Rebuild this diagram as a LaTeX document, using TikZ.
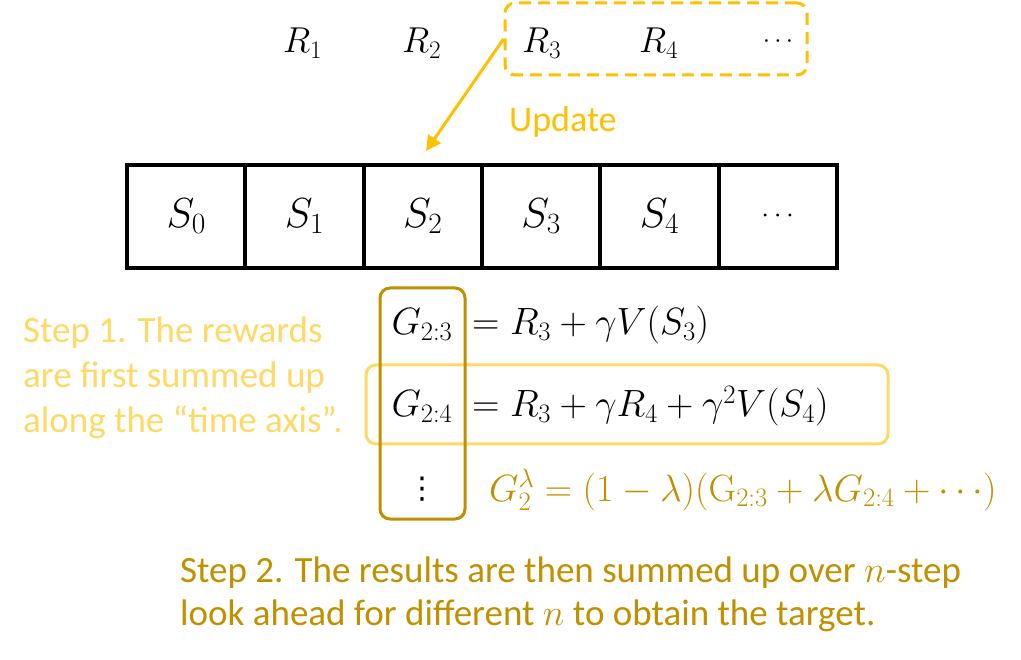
\RequirePackage{fix-cm}
\documentclass[tikz,border=0pt]{standalone}
\usepackage[no-math]{fontspec}
\setmainfont{Carlito}
\newfontfamily\dejavu{DejaVu Sans}
\usetikzlibrary{arrows.meta}
\definecolor{orng}{HTML}{FFC000}
\definecolor{lyel}{HTML}{FFD966}
\definecolor{gold}{HTML}{BF9000}
\begin{document}
\begin{tikzpicture}[x=1pt,y=-1pt,
  cell/.style={draw, line width=4pt, minimum width=118.3pt, minimum height=103pt, inner sep=0pt, font=\fontsize{42}{50}\selectfont},
  rlab/.style={anchor=base west, inner sep=0pt, font=\fontsize{36}{43}\selectfont},
  eqn/.style={inner sep=0pt, font=\fontsize{38}{46}\selectfont},
  stepone/.style={anchor=north west, inner sep=0pt, align=left, text=lyel, font=\fontsize{37}{45}\selectfont},
  steptwo/.style={anchor=north west, inner sep=0pt, align=left, text=gold, font=\fontsize{37}{43}\selectfont},
  roundbox/.style={line width=3pt, rounded corners=10pt, inner sep=0pt}
]
\useasboundingbox (0,0) rectangle (1021,660);

% rewards
\node[rlab] (r1) at (283,53) {$R_1$};
\node[rlab] (r2) at (402,53) {$R_2$};
\node[rlab] (r3) at (522,53) {$R_3$};
\node[rlab] (r4) at (639,53) {$R_4$};
\node[rlab, anchor=base, font=\fontsize{26}{30}\selectfont] (rd) at (778,48) {$\cdots$};
\node[draw=orng, dash pattern=on 12pt off 7pt, roundbox, minimum width=302pt, minimum height=72pt] (dbox) at (656,39) {};

% update arrow
\coordinate (updtip) at (426,151);
\draw[orng, line width=3pt, -{Triangle[length=15pt,width=15pt]}] (dbox.west) -- (updtip);
\node[anchor=base west, inner sep=0pt, text=orng, font=\fontsize{36}{43}\selectfont] (upd) at (509,132) {Update};

% states
\foreach \i/\t in {0/$S_0$,1/$S_1$,2/$S_2$,3/$S_3$,4/$S_4$}{
  \node[cell] (s\i) at ({186.2+118.3*\i},216.5) {\t};
}
\node[cell, font=\fontsize{28}{34}\selectfont] (s5) at ({186.2+118.3*5},216.5) {$\cdots$};

% boxes
\node[draw=lyel, roundbox, minimum width=522pt, minimum height=79pt] (ybox) at (627,404.5) {};
\node[draw=gold, roundbox, minimum width=85pt, minimum height=231pt] (gbox) at (422.5,403.5) {};

% equations
\node[eqn, anchor=base] (g23) at (422,335) {$G_{2:3}$};
\node[eqn, anchor=base west] (e1) at (472,335) {$= R_3 + \gamma V(S_3)$};
\node[eqn, anchor=base] (g24) at (422,417) {$G_{2:4}$};
\node[eqn, anchor=base west] (e2) at (472,417) {$= R_3 + \gamma R_4 + \gamma^2 V(S_4)$};
\node[inner sep=0pt, font=\dejavu\fontsize{30}{36}\selectfont] (vd) at (422,489) {⋮};
\node[eqn, anchor=base west, text=gold] (glam) at (489,501) {$G_2^\lambda = (1-\lambda)(\mathrm{G}_{2:3} + \lambda G_{2:4} + \cdots)$};

% step texts
\node[stepone] (st1) at (23,317) {Step 1. The rewards\\are first summed up\\along the “time axis”.};
\node[steptwo] (st2) at (180,557) {Step 2. The results are then summed up over $n$-step\\look ahead for different $n$ to obtain the target.};
\end{tikzpicture}
\end{document}
